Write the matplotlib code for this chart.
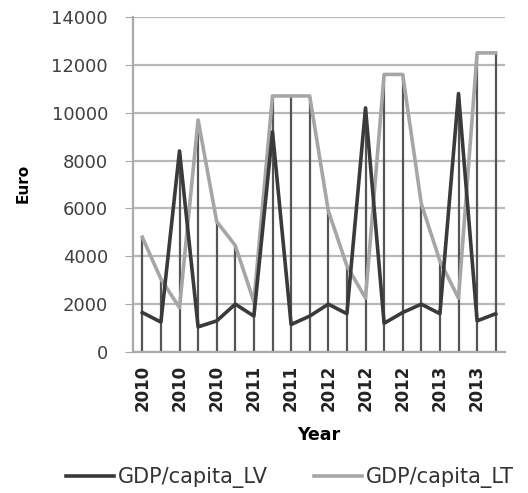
import numpy as np
import matplotlib
matplotlib.use('Agg')
import matplotlib.pyplot as plt

# category labels (every second one is shown, as in the original)
years = ['2010', '2010', '2010', '2010', '2010', '2011', '2011', '2011', '2011', '2011',
         '2012', '2012', '2012', '2012', '2012', '2012', '2013', '2013', '2013', '2013']
gdp_lv = [1650, 1250, 8400, 1050, 1300, 2000, 1500, 9200, 1150, 1500,
          2000, 1600, 10200, 1200, 1650, 2000, 1600, 10800, 1300, 1600]
gdp_lt = [4800, 3050, 1850, 9700, 5450, 4450, 2100, 10700, 10700, 10700,
          5900, 3600, 2250, 11600, 11600, 6200, 3800, 2250, 12500, 12500]

x = np.arange(len(years))

fig = plt.figure(figsize=(5.28, 4.93), dpi=100)
ax = fig.add_axes([133/528, 1 - 352/493, 372/528, 335/493])

ax.set_ylim(0, 14000)
ax.set_xlim(-0.5, len(years) - 0.5)
ax.set_yticks(np.arange(0, 14001, 2000))
ax.grid(axis='y', color='#b8b8b8', linewidth=1.6)
ax.set_axisbelow(True)

# drop lines from the higher of the two series down to the axis
ax.vlines(x, 0, np.maximum(gdp_lv, gdp_lt), color='#555555', linewidth=1.6, zorder=2)

ax.plot(x, gdp_lt, color='#a6a6a6', linewidth=2.6, label='GDP/capita_LT', zorder=3)
ax.plot(x, gdp_lv, color='#3a3a3a', linewidth=2.6, label='GDP/capita_LV', zorder=4)

for s in ['top', 'right']:
    ax.spines[s].set_visible(False)
ax.spines['left'].set_color('#aaaaaa')
ax.spines['left'].set_linewidth(1.6)
ax.spines['bottom'].set_color('#aaaaaa')
ax.spines['bottom'].set_linewidth(1.6)

ax.set_xticks(x[::2])
ax.set_xticklabels(years[::2], rotation=90, fontsize=12, fontweight='bold', color='#222222')
ax.tick_params(axis='x', length=0, pad=9)
ax.tick_params(axis='y', length=6, color='#aaaaaa', labelsize=13, labelcolor='#404040', pad=12)

ax.set_xlabel('Year', fontsize=12.5, fontweight='bold', labelpad=11)
fig.text(23/528, 1 - 183/493, 'Euro', rotation=90, fontsize=11, fontweight='bold',
         ha='center', va='center')

h, l = ax.get_legend_handles_labels()
leg = fig.legend(h[::-1], l[::-1], loc='center', bbox_to_anchor=(290/528, 1 - 478/493), ncol=2,
                 frameon=False, fontsize=15, handlelength=2.3, handletextpad=0.2,
                 columnspacing=2.2)
for t in leg.get_texts():
    t.set_color('#333333')

fig.savefig('out.png', dpi=100)
